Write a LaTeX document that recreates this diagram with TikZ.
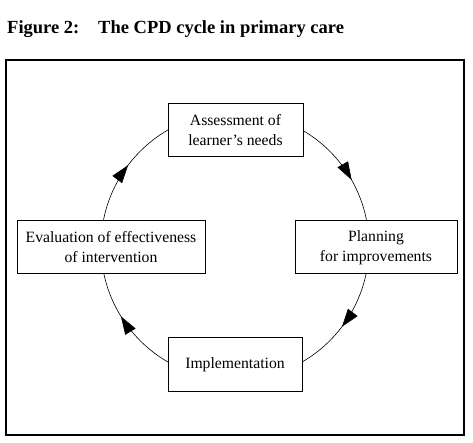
\documentclass[tikz,border=0pt]{standalone}
\usepackage{fontspec}
\setmainfont{Liberation Serif}
\usetikzlibrary{arrows.meta,decorations.markings}
\begin{document}
\begin{tikzpicture}[x=1pt,y=1pt,
  stagebox/.style={draw=black,line width=1pt,fill=white,inner sep=0pt,align=center,
    font=\fontsize{15.7}{20}\selectfont},
  titletext/.style={anchor=base west,inner sep=0pt,font=\fontsize{18.5}{22}\selectfont\bfseries}]
\useasboundingbox (0,0) rectangle (473,443);
% title
\node[titletext] (fig) at (7,409) {Figure 2:};
\node[titletext] (title) at (98,409) {The CPD cycle in primary care};
% frame
\draw[line width=1.3pt] (6,8) rectangle (464,383);
% cycle
\coordinate (c) at (235,197);
\draw[line width=0.6pt,postaction={decorate},
  decoration={markings,
    mark=at position 0.168 with {\arrow{Triangle[length=18pt,width=12pt]}},
    mark=at position 0.353 with {\arrow{Triangle[length=18pt,width=12pt]}},
    mark=at position 0.662 with {\arrow{Triangle[length=18pt,width=12pt]}},
    mark=at position 0.853 with {\arrow{Triangle[length=18pt,width=12pt]}}}]
  (c) ++(90:134) arc[start angle=90,end angle=-270,radius=134];
% stages
\node[stagebox,minimum width=135pt,minimum height=53pt] (assess) at (235.5,312.5) {Assessment of\\learner’s needs};
\node[stagebox,minimum width=162pt,minimum height=53pt] (plan) at (376,195.5) {Planning\\for improvements};
\node[stagebox,minimum width=134pt,minimum height=54pt] (impl) at (235,78) {Implementation};
\node[stagebox,minimum width=188pt,minimum height=53pt] (eval) at (111,195.5) {Evaluation of effectiveness\\of intervention};
\end{tikzpicture}
\end{document}
